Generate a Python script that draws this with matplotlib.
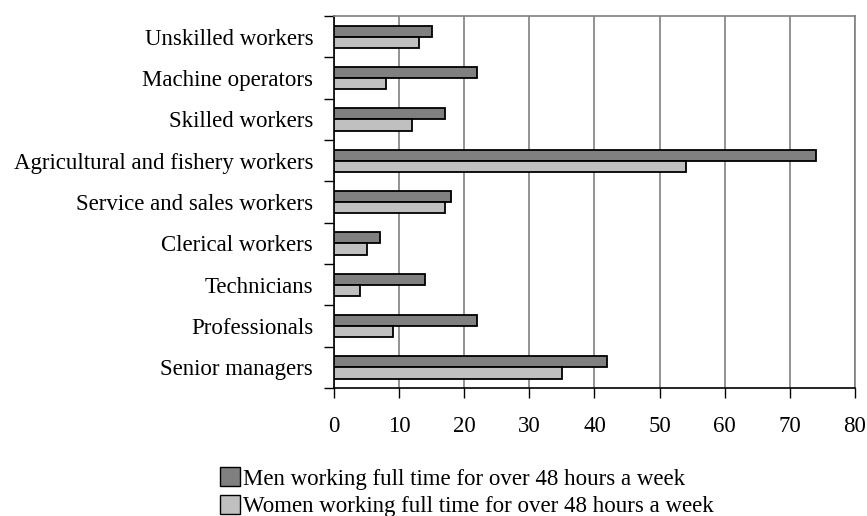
import numpy as np
import matplotlib
matplotlib.use("Agg")
import matplotlib.pyplot as plt
from matplotlib.patches import Patch

plt.rcParams['font.family'] = ['Liberation Serif', 'DejaVu Serif']

categories = ["Unskilled workers", "Machine operators", "Skilled workers",
              "Agricultural and fishery workers", "Service and sales workers",
              "Clerical workers", "Technicians", "Professionals", "Senior managers"]
men = [15, 22, 17, 74, 18, 7, 14, 22, 42]
women = [13, 8, 12, 54, 17, 5, 4, 9, 35]
xticks = [0, 10, 20, 30, 40, 50, 60, 70, 80]

men_label = "Men working full time for over 48 hours a week"
women_label = "Women working full time for over 48 hours a week"

fig = plt.figure(figsize=(8.67, 5.16), dpi=100)
ax = fig.add_axes([0.3853, 0.248, 0.6007, 0.721])

y = np.arange(len(categories))
h = 0.27
ax.barh(y - h / 2, men, height=h, color="#808080", edgecolor="black", linewidth=1.3, zorder=3)
ax.barh(y + h / 2, women, height=h, color="#c0c0c0", edgecolor="black", linewidth=1.3, zorder=3)

ax.set_ylim(len(categories) - 0.5, -0.5)
ax.set_xlim(0, 80)
ax.set_xticks(xticks)
ax.set_xticklabels([str(t) for t in xticks], fontsize=16.5)
ax.tick_params(axis='x', direction='out', length=7, width=1, pad=13)

ax.set_yticks(np.arange(-0.5, len(categories), 1))
ax.set_yticklabels([])
ax.tick_params(axis='y', which='major', direction='out', length=7, width=1)
ax.set_yticks(y, minor=True)
ax.set_yticklabels(categories, minor=True, fontsize=16.5)
ax.tick_params(axis='y', which='minor', length=0, pad=15)

ax.grid(axis='x', color="#808080", linewidth=1.2, zorder=0)
ax.set_axisbelow(True)
ax.spines['top'].set_color("#808080")
ax.spines['right'].set_color("#808080")
for s in ['top', 'right', 'left', 'bottom']:
    ax.spines[s].set_linewidth(1.2)

handles = [Patch(facecolor="#808080", edgecolor="black", label=men_label),
           Patch(facecolor="#c0c0c0", edgecolor="black", label=women_label)]
fig.legend(handles=handles, loc='upper left', bbox_to_anchor=(0.254, 0.094),
           frameon=False, fontsize=16.5, handlelength=0.85, handleheight=0.85,
           handletextpad=0.15, labelspacing=0.25, borderpad=0, borderaxespad=0)

fig.savefig("out.png", dpi=100)
